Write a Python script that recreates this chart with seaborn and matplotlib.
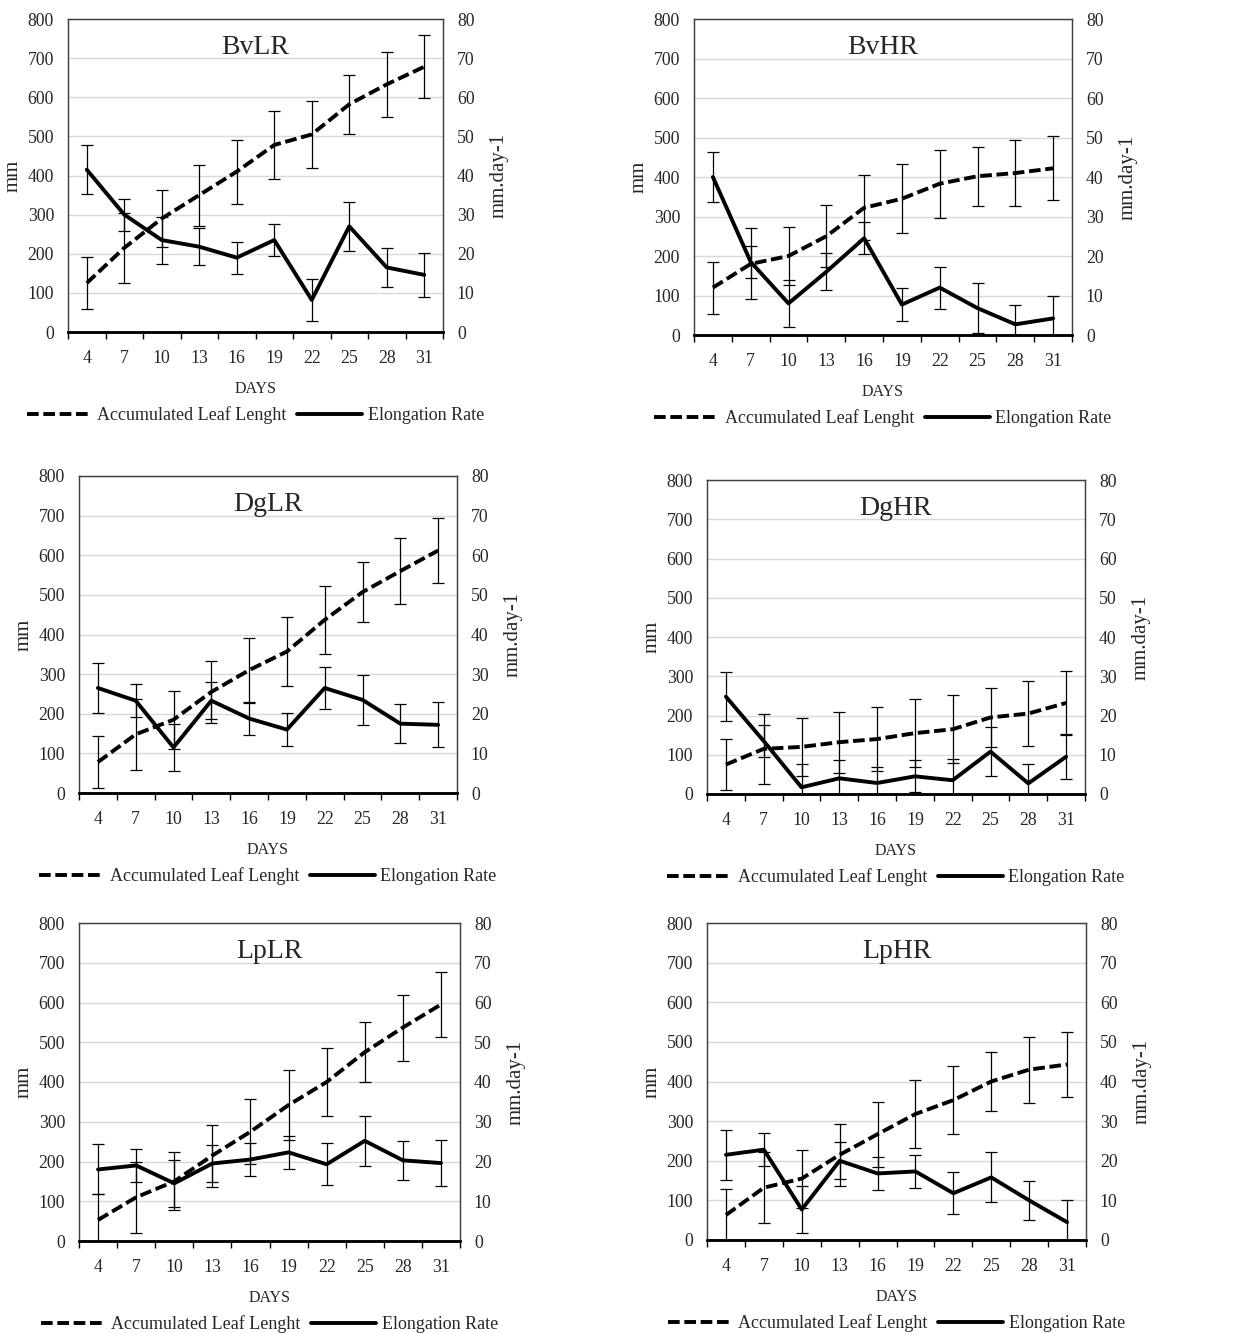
import numpy as np
import matplotlib
matplotlib.use("Agg")
import matplotlib.pyplot as plt
from matplotlib.lines import Line2D
import seaborn as sns

# days of measurement (categorical x axis)
days = ["4", "7", "10", "13", "16", "19", "22", "25", "28", "31"]

# error bar half-widths (same in every panel)
acc_err = [66, 90, 73, 78, 82, 87, 86, 75, 83, 81]
elong_err = [6.3, 4.1, 6.0, 4.7, 4.1, 4.1, 5.3, 6.3, 4.9, 5.7]

# accumulated leaf length (mm) and elongation rate (mm.day-1)
bvlr_acc = [125, 215, 290, 350, 410, 478, 505, 582, 633, 678]
bvlr_elong = [41.5, 30.0, 23.5, 21.8, 19.0, 23.5, 8.2, 27.0, 16.5, 14.6]

bvhr_acc = [120, 180, 200, 250, 322, 345, 383, 402, 410, 422]
bvhr_elong = [40.0, 18.5, 8.0, 16.0, 24.5, 7.7, 12.0, 6.8, 2.7, 4.2]

dglr_acc = [78, 148, 185, 255, 310, 357, 437, 507, 560, 612]
dglr_elong = [26.5, 23.3, 11.5, 23.3, 18.8, 16.0, 26.5, 23.5, 17.5, 17.2]

dghr_acc = [75, 115, 120, 132, 140, 155, 165, 195, 205, 232]
dghr_elong = [24.8, 13.5, 1.7, 4.0, 2.8, 4.5, 3.5, 10.8, 2.7, 9.5]

lplr_acc = [53, 110, 150, 215, 275, 342, 400, 475, 537, 595]
lplr_elong = [18.0, 19.0, 14.5, 19.5, 20.5, 22.3, 19.3, 25.2, 20.3, 19.6]

lphr_acc = [63, 132, 155, 215, 267, 318, 353, 400, 430, 443]
lphr_elong = [21.5, 22.8, 7.7, 20.0, 16.8, 17.3, 11.8, 15.8, 10.0, 4.5]

sns.set_theme(style="white")
plt.rcParams["font.family"] = ["Liberation Serif", "DejaVu Serif"]

W, H = 1258, 1333
fig = plt.figure(figsize=(W / 100, H / 100), dpi=100)

# (name, acc, elong, axes box in pixels: left, top, right, bottom)
panels = [
    ("BvLR", bvlr_acc, bvlr_elong, (68, 19, 443, 332)),
    ("BvHR", bvhr_acc, bvhr_elong, (694, 19, 1072, 335)),
    ("DgLR", dglr_acc, dglr_elong, (79, 476, 457, 793)),
    ("DgHR", dghr_acc, dghr_elong, (707, 480, 1085, 794)),
    ("LpLR", lplr_acc, lplr_elong, (79, 923, 460, 1241)),
    ("LpHR", lphr_acc, lphr_elong, (707, 923, 1086, 1240)),
]

pos = np.arange(len(days))
dash = (0, (3, 1.2))
tick_fs = 12.8
frame_col = "#404040"

for name, acc, elong, (l, t, r, b) in panels:
    ax = fig.add_axes([l / W, 1 - b / H, (r - l) / W, (b - t) / H])
    ax2 = ax.twinx()

    # gridlines
    ax.set_ylim(0, 800)
    ax.set_yticks(range(0, 801, 100))
    ax.yaxis.grid(True, color="#d9d9d9", lw=1)
    ax.xaxis.grid(False)
    ax.set_axisbelow(True)
    ax2.set_ylim(0, 80)
    ax2.set_yticks(range(0, 81, 10))
    ax2.grid(False)

    # error bars
    ax.errorbar(pos, acc, yerr=acc_err, fmt="none", ecolor="black",
                elinewidth=0.9, capsize=4, capthick=0.9, zorder=3)
    ax2.errorbar(pos, elong, yerr=elong_err, fmt="none", ecolor="black",
                 elinewidth=0.9, capsize=4, capthick=0.9, zorder=3)

    # lines
    sns.lineplot(x=pos, y=acc, ax=ax, color="black", lw=2.8,
                 linestyle=dash, zorder=4)
    sns.lineplot(x=pos, y=elong, ax=ax2, color="black", lw=2.8, zorder=4)

    ax.set_xlim(-0.5, len(days) - 0.5)
    ax.set_xticks(pos)
    ax.set_xticklabels(days)
    ax.set_xticks(np.arange(-0.5, len(days), 1), minor=True)
    ax.tick_params(axis="x", which="major", length=0, pad=13, labelsize=tick_fs)
    ax.tick_params(axis="x", which="minor", length=5, width=1, color="black",
                   direction="out", bottom=True)
    ax.tick_params(axis="y", length=0, pad=10, labelsize=tick_fs)
    ax2.tick_params(axis="y", length=0, pad=10, labelsize=tick_fs)

    for a in (ax, ax2):
        for side in ("left", "top", "right"):
            a.spines[side].set_color(frame_col)
            a.spines[side].set_linewidth(0.9)
        a.spines["bottom"].set_color("black")
        a.spines["bottom"].set_linewidth(1.8)

    wpx, hpx = r - l, b - t
    ax.set_xlabel("DAYS", fontsize=11.5)
    ax.xaxis.set_label_coords(0.5, -(381 - 332) / hpx)
    ax.set_ylabel("mm", fontsize=15)
    ax.yaxis.set_label_coords(-45 / wpx, 0.5)
    ax2.set_ylabel("mm.day-1", fontsize=15)
    ax2.yaxis.set_label_coords(1 + 47 / wpx, 0.5)

    ax.text(0.5, 0.91, name, transform=ax.transAxes, ha="center",
            va="center", fontsize=20)

    handles = [
        Line2D([], [], color="black", lw=2.8, linestyle=dash),
        Line2D([], [], color="black", lw=2.8),
    ]
    fig.legend(handles, ["Accumulated Leaf Lenght", "Elongation Rate"],
               loc="center", bbox_to_anchor=((l + r) / 2 / W, 1 - (b + 83) / H),
               ncol=2, frameon=False, fontsize=13, handlelength=3.6,
               handletextpad=0.3, columnspacing=0.6)

fig.savefig("out.png", dpi=100)
